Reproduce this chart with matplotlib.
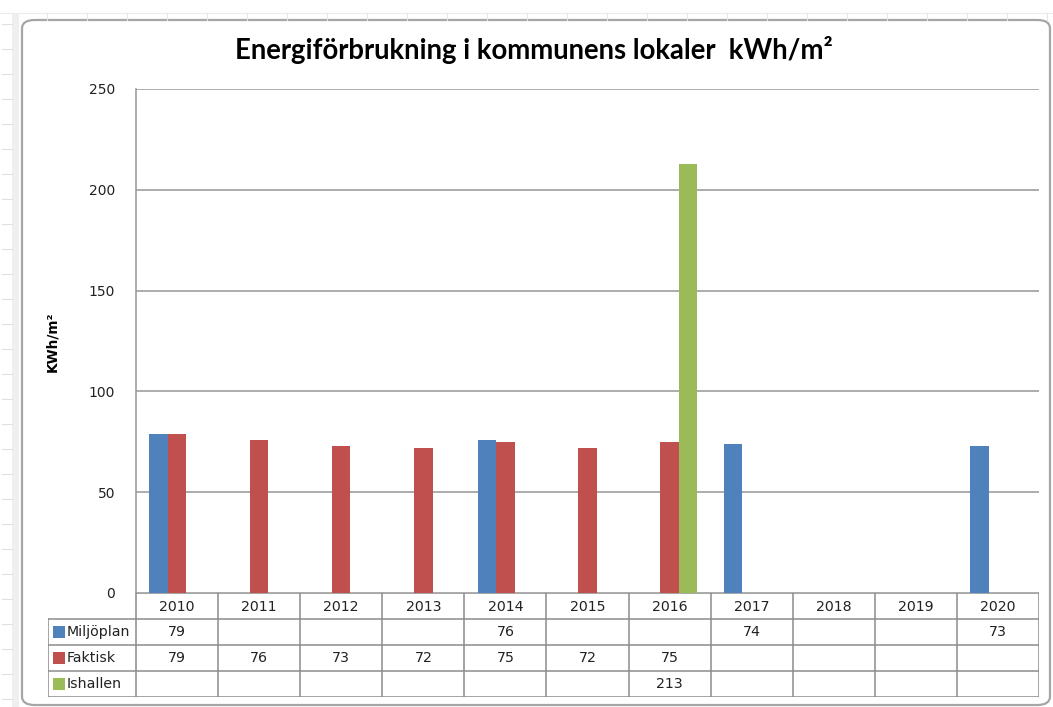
import matplotlib.pyplot as plt
from matplotlib.patches import FancyBboxPatch, Rectangle
from matplotlib.lines import Line2D
import numpy as np

years = ['2010', '2011', '2012', '2013', '2014', '2015', '2016', '2017', '2018', '2019', '2020']
miljoplan = [79, None, None, None, 76, None, None, 74, None, None, 73]
faktisk = [79, 76, 73, 72, 75, 72, 75, None, None, None, None]
ishallen = [None, None, None, None, None, None, 213, None, None, None, None]
series_names = ['Miljöplan', 'Faktisk', 'Ishallen']
colors = ['#4F81BD', '#C0504D', '#9BBB59']

title = 'Energiförbrukning i kommunens lokaler  kWh/m²'
ylabel = 'KWh/m²'

W, H = 1053, 707
fig = plt.figure(figsize=(W / 100, H / 100), dpi=100)
fig.patch.set_facecolor('white')

def fx(px):
    return px / W

def fy(py):
    return 1 - py / H

# spreadsheet background behind the chart
for x in range(47, 1053, 40):
    fig.add_artist(Line2D([fx(x), fx(x)], [fy(13), fy(20)], color='#e6e6e6', lw=0.8))
fig.add_artist(Line2D([fx(0), fx(1053)], [fy(13), fy(13)], color='#ebebeb', lw=0.8))
fig.add_artist(Rectangle((fx(12), 0), fx(7), fy(13), color='#efefef', lw=0))
for y in range(24, 707, 25):
    fig.add_artist(Line2D([fx(2), fx(12)], [fy(y), fy(y)], color='#e0e0e0', lw=0.8))

# chart frame
frame = FancyBboxPatch((fx(22), fy(705)), fx(1050) - fx(22), fy(20) - fy(705),
                       boxstyle='round,pad=0,rounding_size=0.012',
                       transform=fig.transFigure, facecolor='white',
                       edgecolor='#a6a6a6', lw=1.6, zorder=0.5)
fig.add_artist(frame)

# main plot
ax = fig.add_axes([fx(136), fy(593), fx(1039) - fx(136), fy(89) - fy(593)])
ax.set_zorder(2)
ax.patch.set_alpha(0)
x = np.arange(len(years))
bw = 0.225
for i, (vals, c) in enumerate(zip([miljoplan, faktisk, ishallen], colors)):
    v = np.array([np.nan if a is None else a for a in vals], dtype=float)
    ax.bar(x + (i - 1) * bw, v, bw, color=c, edgecolor='none', zorder=3)

ax.set_xlim(-0.5, len(years) - 0.5)
ax.set_ylim(0, 250)
ax.set_yticks(np.arange(0, 251, 50))
ax.grid(axis='y', color='#969696', lw=1.1, zorder=1)
ax.set_xticks([])
ax.tick_params(axis='y', length=0, pad=15, labelsize=10, labelcolor='#222222')
for s in ['top', 'right', 'bottom']:
    ax.spines[s].set_visible(False)
ax.spines['left'].set_color('#969696')
ax.spines['left'].set_linewidth(1.1)

fig.text(fx(534), fy(50), title, ha='center', va='center', fontsize=19.8,
         fontweight='bold', family=['Lato', 'DejaVu Sans'])
fig.text(fx(52), fy(342), ylabel, ha='center', va='center', rotation=90,
         fontsize=9.8, fontweight='bold')

# data table
label_w = (136 - 48) / ((1039 - 136) / len(years))
tax = fig.add_axes([fx(48), fy(697), fx(1039) - fx(48), fy(593) - fy(697)])
tax.set_zorder(3)
tax.patch.set_alpha(0)
tax.set_xlim(-0.5 - label_w, len(years) - 0.5)
tax.set_ylim(4, 0)
tax.axis('off')
lc = '#8c8c8c'
lw = 1.1
tax.plot([-0.5, len(years) - 0.5], [0, 0], color=lc, lw=lw)
for r in range(1, 5):
    tax.plot([-0.5 - label_w, len(years) - 0.5], [r, r], color=lc, lw=lw)
tax.plot([-0.5 - label_w] * 2, [1, 4], color=lc, lw=lw)
for k in range(len(years) + 1):
    tax.plot([k - 0.5] * 2, [0, 4], color=lc, lw=lw)
fs = 10.2
for k, yr in enumerate(years):
    tax.text(k, 0.55, yr, ha='center', va='center', fontsize=fs, color='#222222')
for r, (name, vals, c) in enumerate(zip(series_names, [miljoplan, faktisk, ishallen], colors)):
    yy = r + 1.5
    tax.add_patch(Rectangle((-0.5 - label_w + 0.06, yy - 0.23), 0.145, 0.46, color=c, lw=0))
    tax.text(-0.5 - label_w + 0.23, yy, name, ha='left', va='center', fontsize=fs, color='#222222')
    for k, v in enumerate(vals):
        if v is not None:
            tax.text(k, yy, str(v), ha='center', va='center', fontsize=fs, color='#222222')

fig.savefig('out.png', dpi=100)
